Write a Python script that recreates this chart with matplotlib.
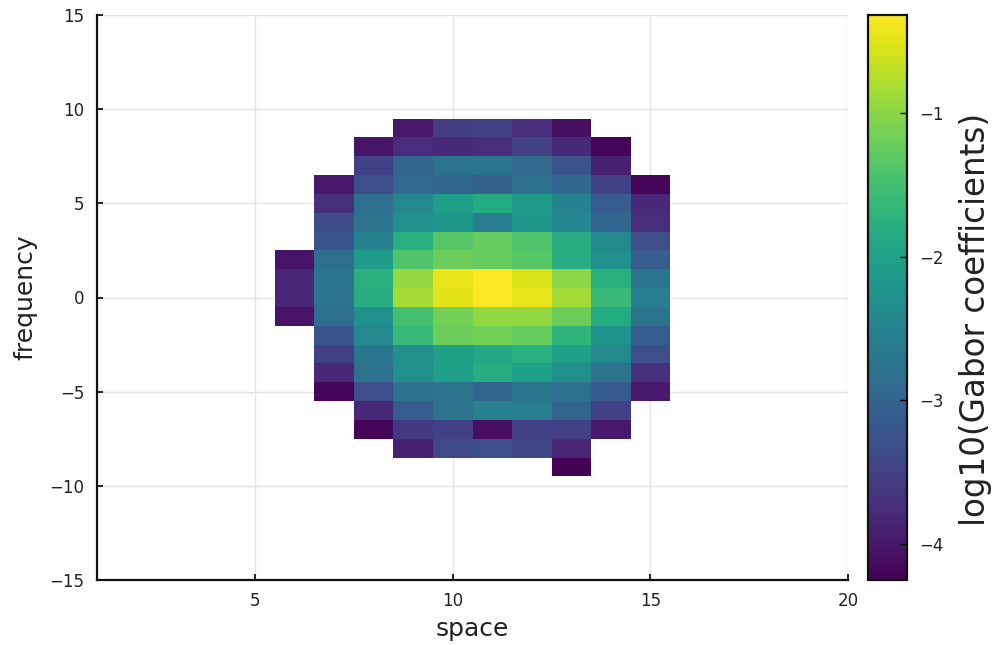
import numpy as np
import matplotlib
matplotlib.use("Agg")
import matplotlib.pyplot as plt

# Grid of cell centres
space = np.arange(6, 16)              # 6 .. 15
frequency = np.arange(9, -10, -1)     # 9 .. -9 (top to bottom)

nan = np.nan
# log10 of Gabor coefficient magnitudes, one row per frequency (top to bottom)
coeffs = [
    [nan, nan, nan, -4.00, -3.55, -3.50, -3.75, -4.10, nan, nan],    # 9
    [nan, nan, -4.05, -3.75, -3.80, -3.75, -3.50, -3.80, -4.20, nan],  # 8
    [nan, nan, -3.50, -3.00, -2.75, -2.70, -2.90, -3.25, -3.90, nan],  # 7
    [nan, -4.00, -3.30, -2.90, -2.95, -3.05, -2.80, -2.95, -3.50, -4.20],  # 6
    [nan, -3.70, -2.85, -2.40, -2.05, -1.85, -2.10, -2.50, -3.10, -3.80],  # 5
    [nan, -3.35, -2.75, -2.30, -2.15, -2.60, -2.15, -2.45, -2.95, -3.75],  # 4
    [nan, -3.20, -2.50, -1.75, -1.35, -1.25, -1.40, -1.80, -2.40, -3.30],  # 3
    [-4.05, -2.85, -2.10, -1.40, -1.20, -1.25, -1.35, -1.80, -2.30, -3.10],  # 2
    [-3.85, -2.70, -1.75, -0.95, -0.45, -0.33, -0.55, -1.00, -1.75, -2.70],  # 1
    [-3.85, -2.75, -1.80, -0.85, -0.50, -0.32, -0.45, -0.85, -1.60, -2.60],  # 0
    [-4.05, -2.85, -2.30, -1.50, -1.15, -0.95, -0.95, -1.20, -1.85, -2.75],  # -1
    [nan, -3.20, -2.40, -1.60, -1.20, -1.15, -1.25, -1.70, -2.25, -3.10],  # -2
    [nan, -3.50, -2.70, -2.30, -2.00, -1.90, -1.75, -2.00, -2.40, -3.30],  # -3
    [nan, -3.80, -2.80, -2.30, -2.05, -1.80, -2.00, -2.30, -2.75, -3.70],  # -4
    [nan, -4.20, -3.30, -2.80, -2.75, -3.00, -2.70, -2.80, -3.15, -4.00],  # -5
    [nan, nan, -3.80, -3.10, -2.75, -2.50, -2.60, -3.00, -3.50, nan],  # -6
    [nan, nan, -4.20, -3.60, -3.50, -4.10, -3.50, -3.50, -4.00, nan],  # -7
    [nan, nan, nan, -3.90, -3.40, -3.30, -3.45, -3.85, nan, nan],    # -8
    [nan, nan, nan, nan, nan, nan, nan, -4.25, nan, nan],          # -9
]

x_ticks = [5, 10, 15, 20]
y_ticks = [-15, -10, -5, 0, 5, 10, 15]
cbar_ticks = [-4, -3, -2, -1]

Z = np.ma.masked_invalid(np.array(coeffs))

plt.rcParams["font.family"] = ["DejaVu Sans"]

fig = plt.figure(figsize=(9.98, 6.45), dpi=100)
ax = fig.add_axes([97 / 998, 1 - 580 / 645, (848 - 97) / 998, (580 - 15) / 645])
cax = fig.add_axes([868 / 998, 1 - 580 / 645, (907 - 868) / 998, (580 - 15) / 645])

mesh = ax.pcolormesh(space, frequency, Z, cmap="viridis", shading="nearest")

ax.set_xlim(1, 20)
ax.set_ylim(-15, 15)
ax.set_xticks(x_ticks)
ax.set_yticks(y_ticks)
ax.grid(True, color="#e4e4e4", linewidth=1.0)
ax.set_axisbelow(True)
for side in ("top", "right"):
    ax.spines[side].set_visible(False)
for side in ("left", "bottom"):
    ax.spines[side].set_linewidth(1.6)
    ax.spines[side].set_color("#111111")
ax.tick_params(direction="in", length=4, width=1.2, labelsize=12,
               labelcolor="#222222", pad=9)
ax.set_xlabel("space", fontsize=18, color="#222222", labelpad=4.5)
ax.set_ylabel("frequency", fontsize=18, color="#222222", labelpad=9)

cb = fig.colorbar(mesh, cax=cax)
cb.set_ticks(cbar_ticks)
cb.ax.tick_params(direction="in", length=5, width=1.0, labelsize=12,
                  labelcolor="#222222", pad=9)
cb.outline.set_linewidth(1.6)
cb.outline.set_edgecolor("#111111")
cb.set_label("log10(Gabor coefficients)", fontsize=23.5, color="#222222")
cb.ax.yaxis.set_label_coords(2.33, 0.461)

fig.savefig("out.png", dpi=100, facecolor="white")
